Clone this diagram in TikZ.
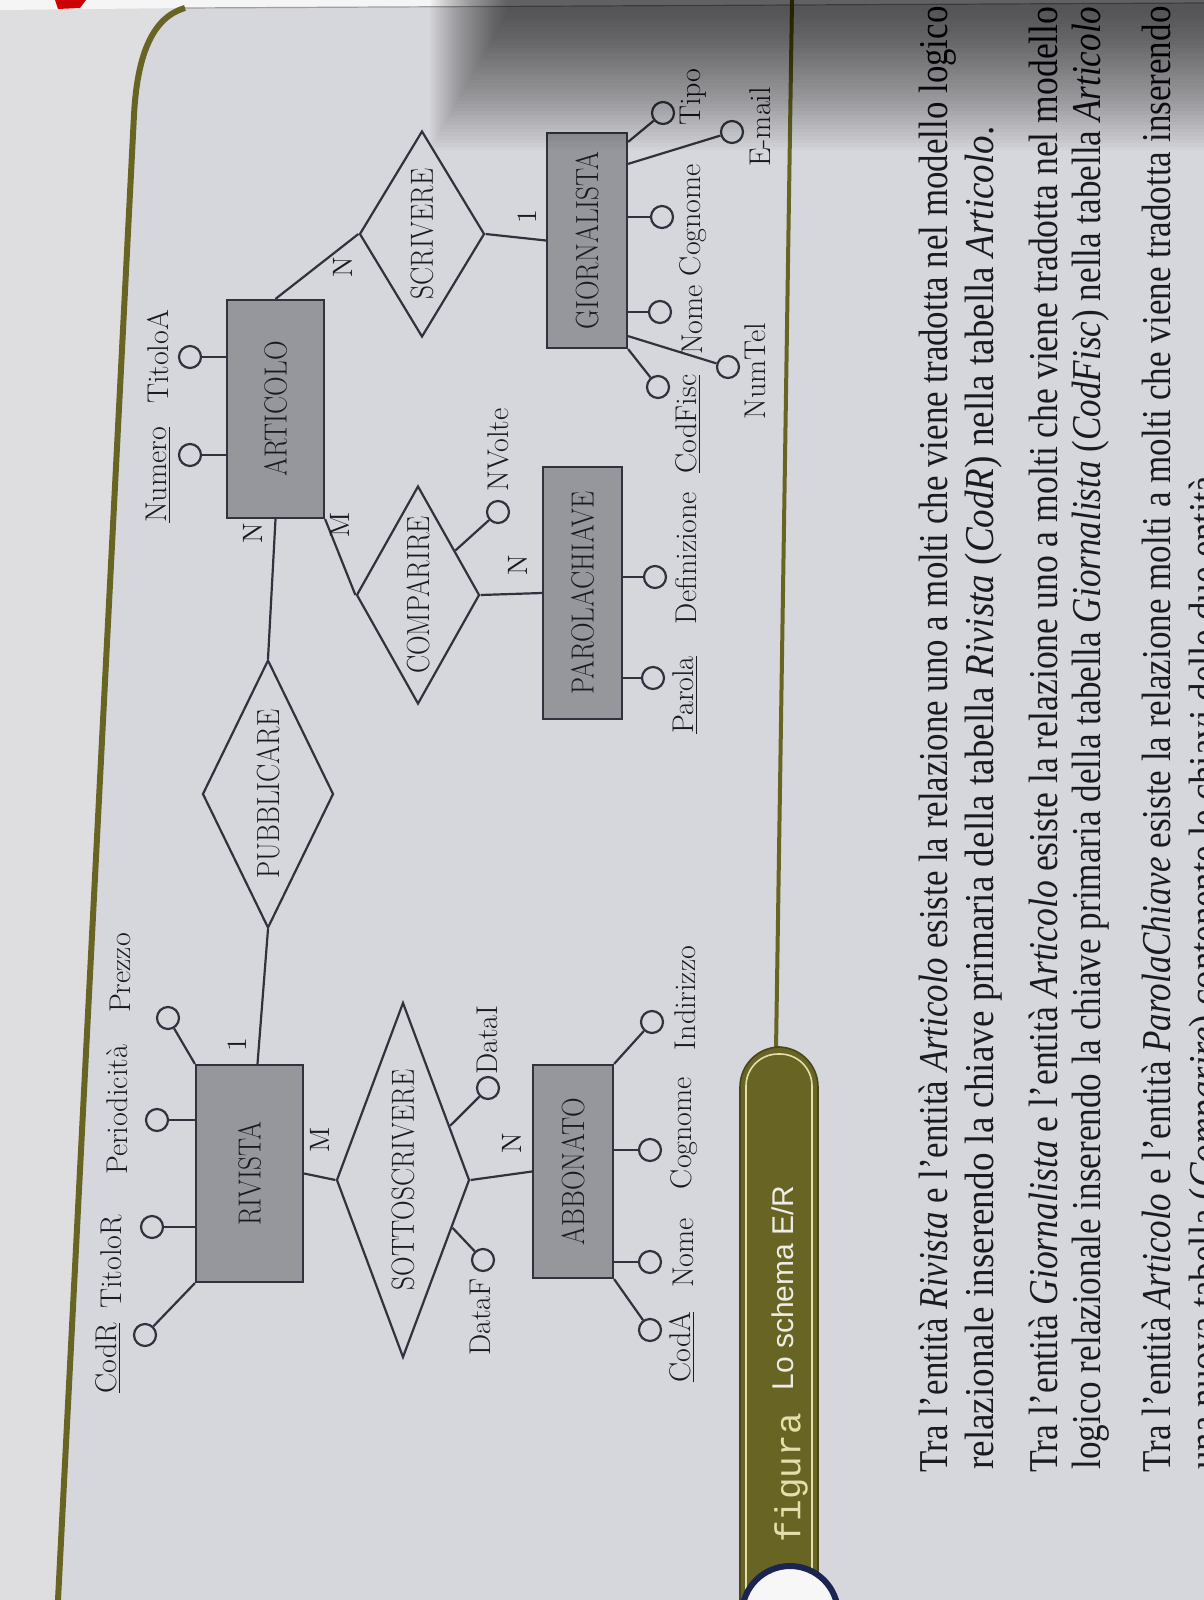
\documentclass[tikz,border=0pt]{standalone}
\usepackage{fontspec}
\usepackage{graphicx}
\setmainfont{Latin Modern Roman}
\newfontfamily\bodyfont{Liberation Serif}
\newfontfamily\capfont{Liberation Sans}
\newfontfamily\tagfont{Liberation Mono}
\usetikzlibrary{shapes.geometric,calc}

\definecolor{pagec}{RGB}{214,215,220}
\definecolor{panelc}{RGB}{213,215,221}
\definecolor{marginc}{RGB}{222,222,225}
\definecolor{olivec}{RGB}{104,100,36}
\definecolor{linec}{RGB}{48,50,62}
\definecolor{boxc}{RGB}{150,151,157}
\definecolor{textc}{RGB}{26,26,32}
\definecolor{navyc}{RGB}{28,36,82}
\definecolor{creamc}{RGB}{228,222,170}

% entity and relationship names are set slightly condensed
\newcommand{\ename}[1]{\rotatebox{90}{\scalebox{0.85}[1]{#1}}}
\newcommand{\rname}[1]{\scalebox{0.85}[1]{#1}}
% a body line squeezed to a given length
\newcommand{\fitline}[2]{\resizebox{#1}{\height}{#2}}

\begin{document}
\begin{tikzpicture}[x=0.5pt,y=-0.5pt,
  conn/.style={draw=linec, line width=1.1pt},
  entity/.style={draw=linec, fill=boxc, line width=1.1pt, rectangle, inner sep=0pt,
                 font=\fontsize{16}{18}\selectfont, text=textc},
  rel/.style={draw=linec, line width=1.1pt, diamond, inner sep=0pt},
  attr/.style={draw=linec, line width=1.1pt, circle, minimum size=11pt, inner sep=0pt, fill=panelc},
  lbl/.style={rotate=90, inner sep=0pt, font=\fontsize{15}{18}\selectfont, text=textc},
  card/.style={rotate=90, inner sep=0pt, font=\fontsize{14}{16}\selectfont, text=textc},
  bodytxt/.style={rotate=90, anchor=base west, inner sep=0pt,
                  font=\bodyfont\fontsize{20.5}{24}\selectfont, text=textc}]

\useasboundingbox (0,0) rectangle (1204,1600);
\clip (0,0) rectangle (1204,1600);

% ---------------- page ----------------
\fill[pagec] (0,0) rectangle (1204,1600);
\fill[marginc] (0,0) -- (185,8) .. controls (150,18) and (137,60) .. (134,115)
  -- (58,1600) -- (0,1600) -- cycle;
\fill[white!92!gray] (0,0) -- (1204,0) -- (1204,3) -- (185,8) -- (0,10) -- cycle;
\draw[gray!75, line width=0.6pt] (185,8) -- (1204,3);
\fill[red!80!black] (55,0) -- (86,0) -- (80,8) -- (58,9) -- cycle;

% figure frame
\draw[olivec, line width=3pt] (185,8) .. controls (150,18) and (137,60) .. (134,115) -- (58,1600);
\draw[olivec, line width=2pt] (792,0) -- (776,1050);

% caption tab
\filldraw[fill=olivec, draw=olivec!70!black, line width=0.8pt, rounded corners=20pt]
  (740,1660) rectangle (818,1047);
\draw[creamc, line width=0.8pt, rounded corners=16pt] (746,1660) rectangle (812,1054);
\node[rotate=90, inner sep=0pt, text=creamc, font=\tagfont\fontsize{18}{20}\selectfont]
  (figtag) at (791,1478) {figura};
\node[rotate=90, inner sep=0pt, text=white!88!olivec, font=\capfont\fontsize{15}{18}\selectfont]
  (figcap) at (783,1288) {Lo schema E/R};
\filldraw[fill=white!94!gray, draw=navyc, line width=3pt] (790,1614) circle [radius=24pt];

% ---------------- entities ----------------
\node[entity, minimum width=48.5pt, minimum height=109pt]   (art) at (275.5,409)   {\ename{ARTICOLO}};
\node[entity, minimum width=53.5pt, minimum height=108.5pt] (riv) at (249.5,1173.5) {\ename{RIVISTA}};
\node[entity, minimum width=40pt,   minimum height=106.5pt] (abb) at (573,1171.5)   {\ename{ABBONATO}};
\node[entity, minimum width=39.5pt, minimum height=126pt]   (par) at (582.5,593)    {\ename{PAROLACHIAVE}};
\node[entity, minimum width=40pt,   minimum height=107.5pt] (gio) at (587,240.5)    {\ename{GIORNALISTA}};

% ---------------- relationships ----------------
\node[rel, minimum width=65.5pt, minimum height=134pt]   (pub) at (268,794)  {};
\node[rel, minimum width=66.5pt, minimum height=177.5pt] (sot) at (403,1180) {};
\node[rel, minimum width=61.5pt, minimum height=109pt]   (com) at (418,595)  {};
\node[rel, minimum width=62.5pt, minimum height=103pt]   (scr) at (422,234)  {};
\node[lbl, font=\fontsize{16}{18}\selectfont] (pubt) at (pub) {\rname{PUBBLICARE}};
\node[lbl, font=\fontsize{16}{18}\selectfont] (sott) at (sot) {\rname{SOTTOSCRIVERE}};
\node[lbl, font=\fontsize{16}{18}\selectfont] (comt) at (com) {\rname{COMPARIRE}};
\node[lbl, font=\fontsize{16}{18}\selectfont] (scrt) at (scr) {\rname{SCRIVERE}};

% ---------------- links ----------------
\draw[conn] (art.south) -- (pub.north);
\draw[conn] (pub.south) -- ($(riv.north)+(8,0)$);
\draw[conn] (art.north) -- (scr.west);
\draw[conn] (scr.east) -- (gio.west);
\draw[conn] (art.south east) -- (com.west);
\draw[conn] (com.east) -- (par.west);
\draw[conn] (riv.east) -- (sot.west);
\draw[conn] (sot.east) -- (abb.west);

% cardinalities
\node[card] (k1) at (253,533)  {N};
\node[card] (k2) at (237,1045) {1};
\node[card] (k3) at (343,267)  {N};
\node[card] (k4) at (527,217)  {1};
\node[card] (k5) at (340,525)  {M};
\node[card] (k6) at (518,565)  {N};
\node[card] (k7) at (320,1140) {M};
\node[card] (k8) at (512,1143) {N};

% ---------------- attributes ----------------
% ARTICOLO
\node[attr] (aNum) at (190,455) {}; \draw[conn] (aNum) -- (aNum -| art.west);
\node[attr] (aTit) at (190,357) {}; \draw[conn] (aTit) -- (aTit -| art.west);
\node[lbl] (laNum) at (158,475) {\underline{Numero}};
\node[lbl] (laTit) at (158,357) {TitoloA};
% RIVISTA
\node[attr] (rPre) at (168,1018) {}; \draw[conn] (rPre) -- (riv.north west);
\node[attr] (rPer) at (157,1120) {}; \draw[conn] (rPer) -- (rPer -| riv.west);
\node[attr] (rTit) at (152,1227) {}; \draw[conn] (rTit) -- (rTit -| riv.west);
\node[attr] (rCod) at (145,1335) {}; \draw[conn] (rCod) -- (riv.south west);
\node[lbl] (lrPre) at (120,973)  {Prezzo};
\node[lbl] (lrPer) at (117,1110) {Periodicità};
\node[lbl] (lrTit) at (111,1262) {TitoloR};
\node[lbl] (lrCod) at (108,1358) {\underline{CodR}};
% ABBONATO
\node[attr] (bInd) at (652,1022) {}; \draw[conn] (bInd) -- (abb.north east);
\node[attr] (bCog) at (650,1150) {}; \draw[conn] (bCog) -- (bCog -| abb.east);
\node[attr] (bNom) at (650,1262) {}; \draw[conn] (bNom) -- (bNom -| abb.east);
\node[attr] (bCod) at (650,1330) {}; \draw[conn] (bCod) -- (abb.south east);
\node[lbl] (lbInd) at (685,998)  {Indirizzo};
\node[lbl] (lbCog) at (684,1133) {Cognome};
\node[lbl] (lbNom) at (683,1253) {Nome};
\node[lbl] (lbCod) at (682,1347) {\underline{CodA}};
% SOTTOSCRIVERE
\node[attr] (sDi) at (488,1088) {}; \draw[conn] (sDi) -- (sot.49);
\node[attr] (sDf) at (483,1260) {}; \draw[conn] (sDf) -- (sot.-44);
\node[lbl] (lsDi) at (487,1040) {DataI};
\node[lbl] (lsDf) at (480,1317) {DataF};
% COMPARIRE
\node[attr] (cNv) at (498,512) {}; \draw[conn] (cNv) -- (com.50);
\node[lbl] (lcNv) at (498,450) {NVolte};
% PAROLACHIAVE
\node[attr] (pDef) at (655,577) {}; \draw[conn] (pDef) -- (pDef -| par.east);
\node[attr] (pPar) at (653,678) {}; \draw[conn] (pPar) -- (pPar -| par.east);
\node[lbl] (lpDef) at (686,558) {Definizione};
\node[lbl] (lpPar) at (685,695) {\underline{Parola}};
% GIORNALISTA
\node[attr] (gTip) at (663,113) {}; \draw[conn] (gTip) -- ($(gio.north east)+(0,10)$);
\node[attr] (gMai) at (732,132) {}; \draw[conn] (gMai) -- ($(gio.north east)+(0,32)$);
\node[attr] (gCog) at (662,217) {}; \draw[conn] (gCog) -- (gCog -| gio.east);
\node[attr] (gNom) at (660,312) {}; \draw[conn] (gNom) -- (gNom -| gio.east);
\node[attr] (gCod) at (658,387) {}; \draw[conn] (gCod) -- (gio.south east);
\node[attr] (gTel) at (728,367) {}; \draw[conn] (gTel) -- ($(gio.south east)+(0,-13)$);
\node[lbl] (lgTip) at (693,97)  {Tipo};
\node[lbl] (lgMai) at (760,127) {E-mail};
\node[lbl] (lgCog) at (693,220) {Cognome};
\node[lbl] (lgNom) at (692,320) {Nome};
\node[lbl] (lgCod) at (688,424) {\underline{CodFisc}};
\node[lbl] (lgTel) at (755,371) {NumTel};

% ---------------- body text ----------------
\node[bodytxt] (t1) at (947,1473) {\fitline{733pt}{Tra l’entità \textit{Rivista} e l’entità \textit{Articolo} esiste la relazione uno a molti che viene tradotta nel modello logico}};
\node[bodytxt] (t2) at (993,1470) {\fitline{671.5pt}{relazionale inserendo la chiave primaria della tabella \textit{Rivista} (\textit{CodR}) nella tabella \textit{Articolo}.}};
\node[bodytxt] (t3) at (1057,1473) {\fitline{733pt}{Tra l’entità \textit{Giornalista} e l’entità \textit{Articolo} esiste la relazione uno a molti che viene tradotta nel modello}};
\node[bodytxt] (t4) at (1100,1470) {\fitline{731.5pt}{logico relazionale inserendo la chiave primaria della tabella \textit{Giornalista} (\textit{CodFisc}) nella tabella \textit{Articolo}}};
\node[bodytxt] (t5) at (1170,1473) {\fitline{733pt}{Tra l’entità \textit{Articolo} e l’entità \textit{ParolaChiave} esiste la relazione molti a molti che viene tradotta inserendo}};
\node[bodytxt] (t6) at (1217,1470) {\scalebox{0.9}[1]{una nuova tabella (\textit{Comparire}) contenente le chiavi delle due entità}};

% ---------------- shadow of the curled page ----------------
\foreach \i in {0,...,39} {
  \fill[black, opacity=0.018] (430+\i*2,-5) rectangle (1210,150-\i*3.5);
}
\end{tikzpicture}
\end{document}
